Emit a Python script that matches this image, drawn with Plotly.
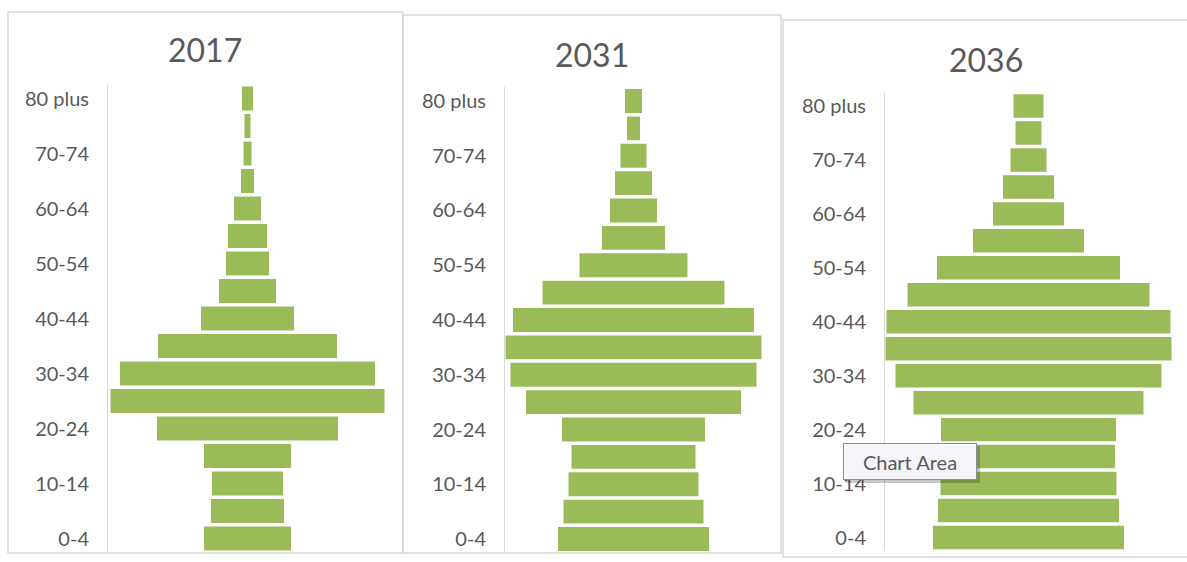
import plotly.graph_objects as go

W, H = 1187, 562

# Age groups, youngest at the bottom
age_groups = ["0-4", "5-9", "10-14", "15-19", "20-24", "25-29", "30-34", "35-39",
              "40-44", "45-49", "50-54", "55-59", "60-64", "65-69", "70-74",
              "75-79", "80 plus"]
tick_groups = age_groups[::2]

years = ["2017", "2031", "2036"]

# Population by age group (relative units, same scale for every year)
pop_2017 = [87, 73, 71, 87, 181, 274, 255, 179, 93, 57, 43, 39, 27, 13, 8, 6, 11]
pop_2031 = [151, 140, 130, 124, 143, 215, 246, 256, 241, 182, 108, 63, 47, 37, 26, 13, 17]
pop_2036 = [191, 181, 176, 173, 175, 230, 266, 286, 284, 242, 183, 111, 71, 51, 36, 26, 30]
series = [pop_2017, pop_2031, pop_2036]

BAR = "#9bbb59"
TXT = "#595959"
BORDER = "#d9d9d9"
FONT = "Lato, 'Open Sans', sans-serif"

# plot areas in pixels: left, right, top, bottom ; frames: left, right, top, bottom
panels = [
    dict(plot=(108, 387, 84.8, 552.3), frame=(8, 403, 12, 553), title=(204.5, 49.5)),
    dict(plot=(505, 762, 87.3, 552.7), frame=(403, 781, 15, 553), title=(591.5, 54.5)),
    dict(plot=(885, 1172, 92.5, 551.0), frame=(783, 1192, 20, 557), title=(986, 59)),
]


def px(x):
    return x / W


def py(y):
    return 1 - y / H


fig = go.Figure()
shapes = []
annotations = []

for i, (year, values, p) in enumerate(zip(years, series, panels)):
    n = "" if i == 0 else str(i + 1)
    left, right, top, bottom = p["plot"]
    half = (right - left) / 2

    fig.add_trace(go.Bar(
        y=age_groups,
        x=values,
        base=[-v / 2 for v in values],
        orientation="h",
        marker=dict(color=BAR, line=dict(width=0)),
        xaxis="x" + n,
        yaxis="y" + n,
        showlegend=False,
        hoverinfo="skip",
    ))

    fig.update_layout(**{
        "xaxis" + n: dict(
            domain=[px(left), px(right)],
            range=[-half, half],
            visible=False,
            anchor="y" + n,
        ),
        "yaxis" + n: dict(
            domain=[py(bottom), py(top)],
            type="category",
            categoryorder="array",
            categoryarray=age_groups,
            range=[-0.5, len(age_groups) - 0.5],
            anchor="x" + n,
            showline=True,
            linecolor=BORDER,
            linewidth=1,
            showgrid=False,
            zeroline=False,
            ticks="",
            tickvals=tick_groups,
            ticktext=tick_groups,
            tickfont=dict(family=FONT, size=20, color=TXT),
            ticklabelstandoff=14,
        ),
    })

    fl, fr, ft, fb = p["frame"]
    shapes.append(dict(
        type="rect", xref="paper", yref="paper",
        x0=px(fl), x1=px(fr), y0=py(fb), y1=py(ft),
        line=dict(color=BORDER, width=1.5), fillcolor="rgba(0,0,0,0)",
        layer="below",
    ))

    tx, ty = p["title"]
    annotations.append(dict(
        text=year, xref="paper", yref="paper", x=px(tx), y=py(ty),
        xanchor="center", yanchor="middle", showarrow=False,
        font=dict(family=FONT, size=32, color=TXT),
    ))

# "Chart Area" hover tip over the third panel
shapes.append(dict(
    type="rect", xref="paper", yref="paper",
    x0=px(846), x1=px(980), y0=py(483), y1=py(446),
    line=dict(width=0), fillcolor="rgba(0,0,0,0.22)", layer="above",
))
annotations.append(dict(
    text="Chart Area", xref="paper", yref="paper", x=px(910), y=py(461.5),
    xanchor="center", yanchor="middle", showarrow=False,
    width=130, height=33, borderpad=1,
    bgcolor="#f6f6fa", bordercolor="#8c8c96", borderwidth=1,
    font=dict(family=FONT, size=20, color=TXT),
))

fig.update_layout(
    width=W, height=H,
    margin=dict(l=0, r=0, t=0, b=0),
    paper_bgcolor="white",
    plot_bgcolor="white",
    barmode="overlay",
    bargap=0.13,
    shapes=shapes,
    annotations=annotations,
    hovermode=False,
)

fig.write_html("out.html")
